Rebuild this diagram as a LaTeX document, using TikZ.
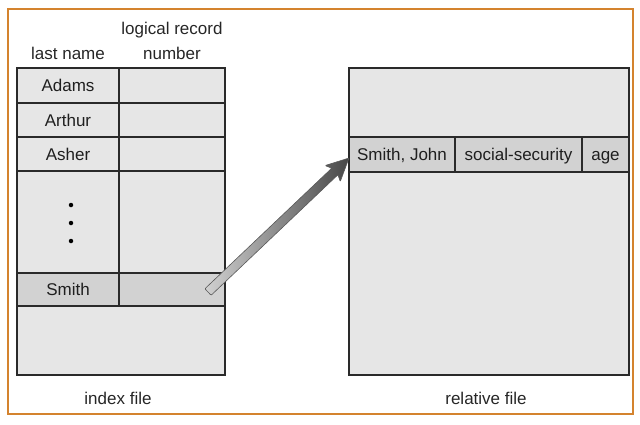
\documentclass[tikz,border=0pt]{standalone}
\usepackage{fontspec}
\setmainfont{Liberation Sans}
\definecolor{frameorange}{HTML}{D4832E}
\definecolor{cellgray}{HTML}{E6E6E6}
\definecolor{selgray}{HTML}{D2D2D2}
\definecolor{linegray}{HTML}{2A2A2A}
\begin{document}
\begin{tikzpicture}[x=1pt,y=-1pt,
  cell/.style={draw=linegray, line width=1.1pt, fill=cellgray, rectangle, inner sep=0pt, text height=12.4pt, text depth=0pt, font=\fontsize{17}{20}\selectfont, text=black!88},
  selcell/.style={cell, fill=selgray},
  lbl/.style={inner sep=0pt, text height=12.4pt, text depth=0pt, font=\fontsize{17}{20}\selectfont, text=black!85},
  dotmark/.style={circle, fill=black, inner sep=0pt, minimum size=4.5pt}]
\useasboundingbox (0,0) rectangle (640,424);
\node[draw=frameorange, line width=2.6pt, rectangle, inner sep=0pt, minimum width=625pt, minimum height=405pt] (frame) at (320.5,211.5) {};
% headers
\node[lbl] (hlr) at (172,28.5) {logical record};
\node[lbl] (hnum) at (172,53.5) {number};
\node[lbl] (hln) at (68,53.5) {last name};
% index file
\node[cell, minimum width=102pt, minimum height=35pt] (adams) at (68,85.5) {Adams};
\node[cell, minimum width=106pt, minimum height=35pt] (adamsn) at (172,85.5) {};
\node[cell, minimum width=102pt, minimum height=34pt] (arthur) at (68,120) {Arthur};
\node[cell, minimum width=106pt, minimum height=34pt] (arthurn) at (172,120) {};
\node[cell, minimum width=102pt, minimum height=34pt] (asher) at (68,154) {Asher};
\node[cell, minimum width=106pt, minimum height=34pt] (ashern) at (172,154) {};
\node[cell, minimum width=102pt, minimum height=102pt] (gap) at (68,222) {};
\node[cell, minimum width=106pt, minimum height=102pt] (gapn) at (172,222) {};
\node[selcell, minimum width=102pt, minimum height=33pt] (smith) at (68,289.5) {Smith};
\node[selcell, minimum width=106pt, minimum height=33pt] (smithn) at (172,289.5) {};
\node[cell, minimum width=208pt, minimum height=69pt] (ibottom) at (121,340.5) {};
\node[dotmark] (d1) at (71,205) {};
\node[dotmark] (d2) at (71,223) {};
\node[dotmark] (d3) at (71,241) {};
\node[lbl] (ilbl) at (118,398.5) {index file};
% relative file
\node[cell, minimum width=280pt, minimum height=69pt] (rtop) at (489,102.5) {};
\node[selcell, minimum width=106pt, minimum height=35pt] (sj) at (402,154.5) {Smith, John};
\node[selcell, minimum width=127pt, minimum height=35pt] (ss) at (518.5,154.5) {social-security};
\node[selcell, minimum width=47pt, minimum height=35pt] (age) at (605.5,154.5) {age};
\node[cell, minimum width=280pt, minimum height=203pt] (rbottom) at (489,273.5) {};
\node[lbl] (rlbl) at (486,398.5) {relative file};
% arrow
\coordinate (tail) at (208,292);
\begin{scope}[shift={(tail)}, rotate=43.54]
\shade[left color=black!18, right color=black!72, draw=black!65, line width=0.6pt, rounded corners=0.8pt]
  (0pt,-4.5pt) -- (175pt,-4.5pt) -- (172pt,-11pt) -- (194.5pt,0pt) -- (172pt,11pt) -- (175pt,4.5pt) -- (0pt,4.5pt) -- cycle;
\end{scope}
\end{tikzpicture}
\end{document}
